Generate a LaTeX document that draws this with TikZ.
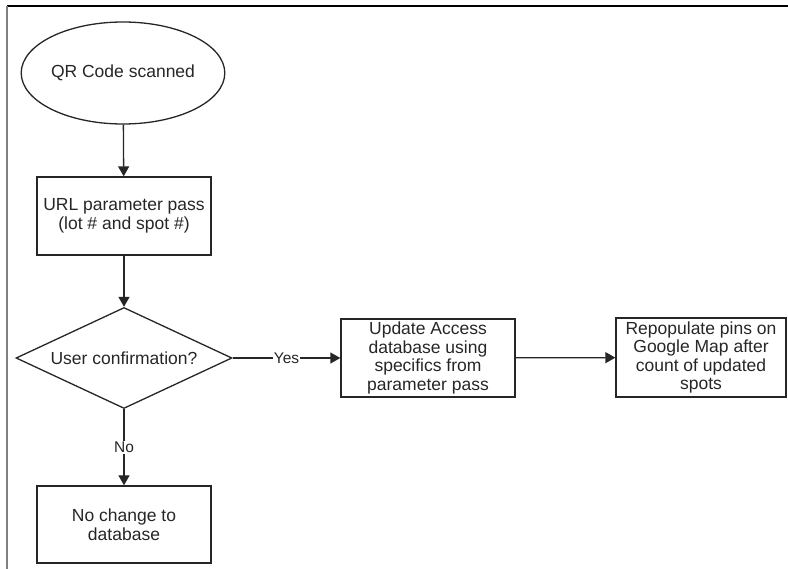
\documentclass[tikz,border=0pt]{standalone}
\usepackage{fontspec}
\setmainfont{Liberation Sans}
\usetikzlibrary{shapes.geometric,arrows.meta}

\begin{document}
\begin{tikzpicture}[x=1pt,y=-1pt,line width=1.3pt,
    every node/.style={font=\fontsize{17.5}{18.6}\selectfont,text=black!85,align=center},
    stepbox/.style={draw=black!85,rectangle,inner sep=0pt},
    startnode/.style={draw=black!85,ellipse,inner sep=0pt,minimum width=173pt,minimum height=102pt},
    decision/.style={draw=black!85,diamond,shape aspect=2.14,inner sep=0pt,minimum width=216pt,minimum height=101pt},
    flowlabel/.style={font=\fontsize{15.5}{17}\selectfont,fill=white,inner sep=1pt}]
      \useasboundingbox (0,0) rectangle (788,569);
      \draw[black] (7,6) -- (788,6);
      \draw[gray] (7,6) -- (7,569);
      \draw
        (123,73) node[startnode] (scan){QR Code scanned}
        (124,216) node[stepbox,minimum width=174pt,minimum height=78pt] (pass){URL parameter pass\\(lot \# and spot \#)}
        (124,358) node[decision] (confirm){User confirmation?}
        (428,358) node[stepbox,minimum width=174pt,minimum height=78pt] (update){Update Access\\database using\\specifics from\\parameter pass}
        (701,357.5) node[stepbox,minimum width=170pt,minimum height=79pt] (pins){Repopulate pins on\\Google Map after\\count of updated\\spots}
        (124,524.5) node[stepbox,minimum width=174pt,minimum height=77pt] (nochange){No change to\\database};
      \begin{scope}[-{Triangle[length=10pt,width=11pt]},draw=black!85]
        \draw (scan) to (pass);
        \draw (pass) to (confirm);
        \draw (confirm) to node[flowlabel]{Yes} (update);
        \draw (update) to (pins);
        \draw (confirm) to node[flowlabel]{No} (nochange);
      \end{scope}
    \end{tikzpicture}
\end{document}
